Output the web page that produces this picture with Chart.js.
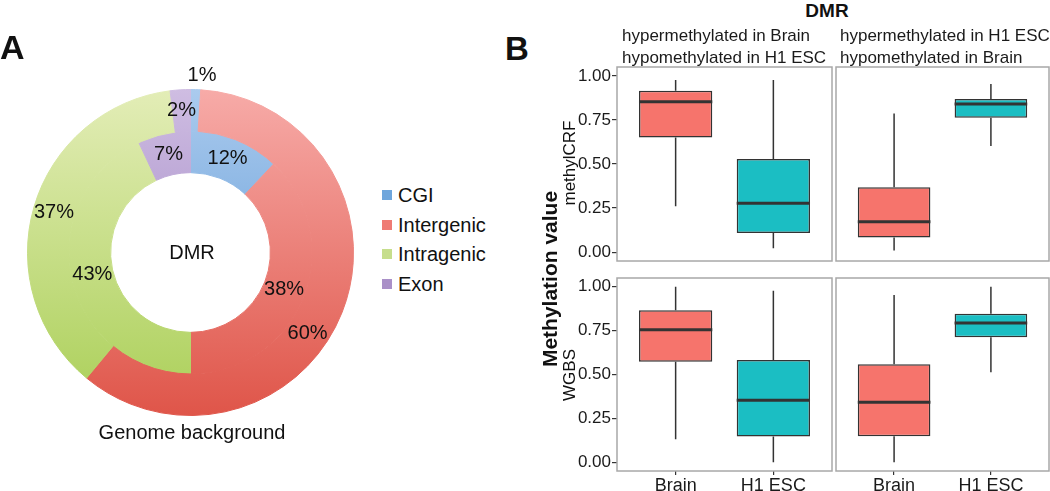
<!DOCTYPE html>
<html>
<head>
<meta charset="utf-8">
<script src="https://cdn.jsdelivr.net/npm/chart.js@4.4.1/dist/chart.umd.min.js"></script>
<style>
  html, body { margin: 0; padding: 0; background: #fff; }
  body { font-family: "Liberation Sans", Arial, sans-serif; color: #111; }
  #fig { position: relative; width: 1050px; height: 491px; overflow: hidden; }
  canvas { position: absolute; }
  .t { position: absolute; white-space: nowrap; line-height: 1; }
  .rot { transform: translate(-50%, -50%) rotate(-90deg); }
  .strip { position: absolute; font-size: 17px; line-height: 22px; white-space: nowrap; color: #1a1a1a; }
  .leg { position: absolute; left: 382px; height: 24px; display: flex; align-items: center; font-size: 20px; line-height: 24px; }
  .leg i { display: inline-block; width: 10px; height: 10px; margin-right: 6px; }
</style>
</head>
<body>
<div id="fig">
  <canvas id="donut" width="380" height="420" style="left:0;top:40px"></canvas>
  <canvas id="b11" width="273" height="196" style="left:560px;top:66px"></canvas>
  <canvas id="b12" width="215" height="196" style="left:835px;top:66px"></canvas>
  <canvas id="b21" width="273" height="214" style="left:560px;top:277px"></canvas>
  <canvas id="b22" width="215" height="214" style="left:835px;top:277px"></canvas>

  <div class="t" style="left:0;top:30px;font-size:34px;font-weight:bold">A</div>
  <div class="t" style="left:505px;top:32px;font-size:33px;font-weight:bold">B</div>

  <div class="t" style="left:192px;top:240px;font-size:20px;line-height:24px;transform:translateX(-50%)">DMR</div>
  <div class="t" style="left:192px;top:420px;font-size:20px;line-height:24px;transform:translateX(-50%)">Genome background</div>
  <div id="legend"></div>

  <div class="t" style="left:827px;top:1px;font-size:19px;font-weight:bold;transform:translateX(-50%)">DMR</div>
  <div class="strip" style="left:622px;top:25px">hypermethylated in Brain<br>hypomethylated in H1 ESC</div>
  <div class="strip" style="left:840px;top:25px">hypermethylated in H1 ESC<br>hypomethylated in Brain</div>
  <div class="t rot" style="left:549px;top:279px;font-size:21px;font-weight:bold">Methylation value</div>
  <div class="t rot" style="left:569px;top:163px;font-size:17px">methylCRF</div>
  <div class="t rot" style="left:569px;top:375px;font-size:17px">WGBS</div>
</div>

<script>
// panel A: share of regions (%)
const regions = ['CGI', 'Intergenic', 'Intragenic', 'Exon'];
const genomePct = [1, 60, 37, 2];
const dmrPct = [12, 38, 43, 7];

// panel B: box stats [lower whisker, Q1, median, Q3, upper whisker]
const groups = ['Brain', 'H1 ESC'];
const yTicks = [0, 0.25, 0.5, 0.75, 1];
const crfHyperBrain_Brain = [0.26, 0.65, 0.853, 0.915, 0.976];
const crfHyperBrain_H1 = [0.023, 0.109, 0.277, 0.528, 0.976];
const crfHyperH1_Brain = [0.009, 0.083, 0.172, 0.368, 0.787];
const crfHyperH1_H1 = [0.602, 0.762, 0.84, 0.868, 0.953];
const wgbsHyperBrain_Brain = [0.131, 0.573, 0.755, 0.866, 1.0];
const wgbsHyperBrain_H1 = [0.0, 0.146, 0.353, 0.583, 0.977];
const wgbsHyperH1_Brain = [0.0, 0.148, 0.342, 0.558, 0.953];
const wgbsHyperH1_H1 = [0.513, 0.712, 0.793, 0.846, 1.0];

Chart.defaults.font.family = '"Liberation Sans", Arial, sans-serif';
Chart.defaults.color = '#1a1a1a';

// ---- donut ----
const sliceTop = ['#abcbee', '#f7aba8', '#e3edb7', '#cfbde2'];
const sliceBottom = ['#4f8ed0', '#df5549', '#aacf57', '#9276bc'];
const legendColor = ['#6fa6dc', '#ef7b74', '#c6de8c', '#aa90c8'];

function sliceFill(c) {
  const {ctx, chartArea} = c.chart;
  if (!chartArea) return sliceBottom[c.dataIndex];
  const g = ctx.createLinearGradient(0, chartArea.top, 0, chartArea.bottom);
  g.addColorStop(0, sliceTop[c.dataIndex]);
  g.addColorStop(1, sliceBottom[c.dataIndex]);
  return g;
}

const pctLabels = {
  id: 'pctLabels',
  afterDatasetsDraw(chart) {
    const ctx = chart.ctx;
    ctx.save();
    ctx.font = '20px "Liberation Sans", Arial, sans-serif';
    ctx.fillStyle = '#111';
    ctx.textAlign = 'center';
    ctx.textBaseline = 'middle';
    chart.data.datasets.forEach((ds, di) => {
      chart.getDatasetMeta(di).data.forEach((arc, i) => {
        const p = arc.getProps(['x', 'y', 'startAngle', 'endAngle', 'innerRadius', 'outerRadius'], true);
        const f = ds.labelFrac ? ds.labelFrac[i] : 0.5;
        const ang = p.startAngle + (p.endAngle - p.startAngle) * f;
        const r = ds.data[i] < 1.5 ? p.outerRadius + 14 : (p.innerRadius + p.outerRadius) / 2;
        ctx.fillText(ds.data[i] + '%', p.x + Math.cos(ang) * r + (ds.data[i] < 1.5 ? 6 : 0), p.y + Math.sin(ang) * r);
      });
    });
    ctx.restore();
  }
};

new Chart(document.getElementById('donut'), {
  type: 'doughnut',
  data: {
    labels: regions,
    datasets: [
      { label: 'Genome background', data: genomePct, backgroundColor: sliceFill, borderColor: sliceFill, borderWidth: 1, labelFrac: [0.5, 0.56, 0.5, 0.5] },
      { label: 'DMR', data: dmrPct, backgroundColor: sliceFill, borderColor: sliceFill, borderWidth: 1 }
    ]
  },
  options: {
    responsive: false,
    animation: false,
    events: [],
    cutout: '49%',
    layout: { padding: { left: 27, right: 26, top: 49, bottom: 44 } },
    plugins: { legend: { display: false }, tooltip: { enabled: false } }
  },
  plugins: [pctLabels]
});

const legendBox = document.getElementById('legend');
regions.forEach((name, i) => {
  const row = document.createElement('div');
  row.className = 'leg';
  row.style.top = (183 + i * 29.5) + 'px';
  row.innerHTML = '<i style="background:' + legendColor[i] + '"></i>' + name;
  legendBox.appendChild(row);
});

// ---- boxplots ----
const boxFill = ['#F6746C', '#1BBEC3'];

const boxParts = {
  id: 'boxParts',
  afterDatasetsDraw(chart) {
    const {ctx, chartArea: a} = chart;
    const y = chart.scales.y;
    const stats = chart.data.datasets[0].stats;
    ctx.save();
    ctx.strokeStyle = '#333';
    ctx.lineCap = 'butt';
    chart.getDatasetMeta(0).data.forEach((bar, i) => {
      const s = stats[i];
      const cx = bar.x, half = bar.width / 2;
      ctx.lineWidth = 1.5;
      ctx.beginPath();
      ctx.moveTo(cx, y.getPixelForValue(s[0]));
      ctx.lineTo(cx, y.getPixelForValue(s[1]));
      ctx.moveTo(cx, y.getPixelForValue(s[3]));
      ctx.lineTo(cx, y.getPixelForValue(s[4]));
      ctx.stroke();
      ctx.lineWidth = 3;
      ctx.beginPath();
      ctx.moveTo(cx - half, y.getPixelForValue(s[2]));
      ctx.lineTo(cx + half, y.getPixelForValue(s[2]));
      ctx.stroke();
    });
    ctx.strokeStyle = '#a8a8a8';
    ctx.lineWidth = 1.5;
    ctx.strokeRect(a.left, a.top, a.width, a.height);
    ctx.restore();
  }
};

function boxChart(id, brain, h1, showY, showX) {
  const stats = [brain, h1];
  new Chart(document.getElementById(id), {
    type: 'bar',
    data: {
      datasets: [{
        data: stats.map((s, i) => ({ x: i + 1, y: [s[1], s[3]] })),
        stats: stats,
        backgroundColor: boxFill,
        borderColor: '#333',
        borderWidth: 1.5,
        borderSkipped: false,
        barPercentage: 1,
        categoryPercentage: 0.75
      }]
    },
    options: {
      responsive: false,
      animation: false,
      events: [],
      layout: { padding: { left: showY ? 0 : 1, right: 1, top: 1, bottom: showX ? 0 : 1 } },
      plugins: { legend: { display: false }, tooltip: { enabled: false } },
      scales: {
        x: {
          type: 'linear', min: 0.4, max: 2.6, offset: false, display: showX,
          afterBuildTicks: s => { s.ticks = groups.map((g, i) => ({ value: i + 1 })); },
          afterFit: s => {
            if (!showX) return;
            s.height = 20; s.paddingLeft = 0; s.paddingRight = 0;
          },
          ticks: { callback: v => groups[v - 1], font: { size: 18 }, padding: 0, maxRotation: 0, autoSkip: false },
          grid: { drawOnChartArea: false, offset: false, tickLength: 4, color: '#333', lineWidth: 1.2 },
          border: { display: false }
        },
        y: {
          type: 'linear', min: -0.05, max: 1.05, display: showY,
          afterBuildTicks: s => { s.ticks = yTicks.map(v => ({ value: v })); },
          afterFit: s => {
            if (!showY) return;
            s.width = 57; s.paddingTop = 0; s.paddingBottom = 0;
          },
          ticks: { callback: v => v.toFixed(2), font: { size: 17 }, padding: 1 },
          grid: { drawOnChartArea: false, tickLength: 5, color: '#333', lineWidth: 1.2 },
          border: { display: false }
        }
      }
    },
    plugins: [boxParts]
  });
}

boxChart('b11', crfHyperBrain_Brain, crfHyperBrain_H1, true, false);
boxChart('b12', crfHyperH1_Brain, crfHyperH1_H1, false, false);
boxChart('b21', wgbsHyperBrain_Brain, wgbsHyperBrain_H1, true, true);
boxChart('b22', wgbsHyperH1_Brain, wgbsHyperH1_H1, false, true);
</script>
</body>
</html>
